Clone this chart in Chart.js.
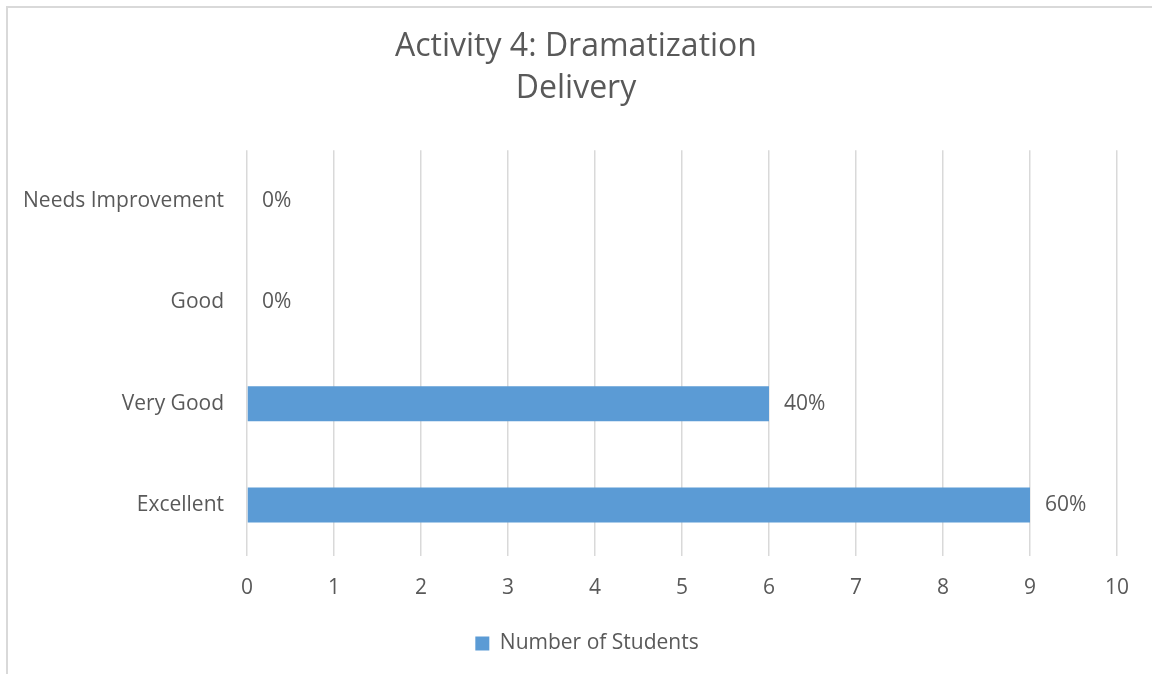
<!DOCTYPE html>
<html>
<head>
<meta charset="utf-8">
<script src="https://cdn.jsdelivr.net/npm/chart.js@4.4.0/dist/chart.umd.min.js"></script>
<style>
    html, body { margin: 0; padding: 0; background: #fff; }
    .frame {
        position: absolute; left: 6px; top: 6px;
        width: 1170px; height: 690px;
        border: 2px solid #d9d9d9;
    }
    .chart-box {
        position: absolute; left: 0; top: 0;
        width: 1152px; height: 674px;
    }
</style>
</head>
<body>
<div class="frame"></div>
<div class="chart-box"><canvas id="chart"></canvas></div>
<script>
const categories = ['Needs Improvement', 'Good', 'Very Good', 'Excellent'];
const students = [0, 0, 6, 9];
const percentLabels = ['0%', '0%', '40%', '60%'];
const titleLines = ['Activity 4: Dramatization', 'Delivery'];
const seriesName = 'Number of Students';

const textColor = '#595959';
const fontFamily = '"Open Sans", Lato, sans-serif';
const labelSize = 21;

// draws the % labels just past the end of each bar
const barLabels = {
    id: 'barLabels',
    afterDatasetsDraw(chart) {
        const ctx = chart.ctx;
        const meta = chart.getDatasetMeta(0);
        ctx.save();
        ctx.font = labelSize + 'px ' + fontFamily;
        ctx.fillStyle = textColor;
        ctx.textAlign = 'left';
        ctx.textBaseline = 'middle';
        meta.data.forEach((bar, i) => {
            ctx.fillText(percentLabels[i], bar.x + 15, bar.y);
        });
        ctx.restore();
    }
};

// center title and legend on the whole canvas rather than the padded box
const recenter = {
    id: 'recenter',
    afterLayout(chart) {
        if (chart.titleBlock) {
            chart.titleBlock.left = 0;
            chart.titleBlock.right = chart.width;
        }
        if (chart.legend) {
            chart.legend.left = 22;
            chart.legend.right = chart.width;
        }
    }
};

new Chart(document.getElementById('chart'), {
    type: 'bar',
    data: {
        labels: categories,
        datasets: [{
            label: seriesName,
            data: students,
            backgroundColor: '#5b9bd5',
            borderWidth: 0,
            barPercentage: 0.345,
            categoryPercentage: 1
        }]
    },
    options: {
        indexAxis: 'y',
        responsive: true,
        maintainAspectRatio: false,
        animation: false,
        layout: {
            padding: { left: 0, right: 35, top: 0, bottom: 10 }
        },
        plugins: {
            title: {
                display: true,
                text: titleLines,
                color: textColor,
                font: { family: fontFamily, size: 32, weight: 'normal', lineHeight: 1.3 },
                padding: { top: 26, bottom: 41 }
            },
            legend: {
                position: 'bottom',
                labels: {
                    color: textColor,
                    font: { family: fontFamily, size: labelSize },
                    boxWidth: 14,
                    boxHeight: 14,
                    padding: 12
                }
            },
            tooltip: { enabled: false }
        },
        scales: {
            x: {
                min: 0,
                max: 10,
                ticks: {
                    stepSize: 1,
                    color: textColor,
                    font: { family: fontFamily, size: labelSize },
                    padding: 20
                },
                grid: { color: '#d9d9d9', lineWidth: 1.5, drawTicks: false },
                border: { display: false }
            },
            y: {
                ticks: {
                    color: textColor,
                    font: { family: fontFamily, size: labelSize },
                    padding: 15
                },
                grid: { display: false },
                border: { display: false },
                afterFit(scale) {
                    scale.width = 247;
                }
            }
        }
    },
    plugins: [barLabels, recenter]
});
</script>
</body>
</html>
